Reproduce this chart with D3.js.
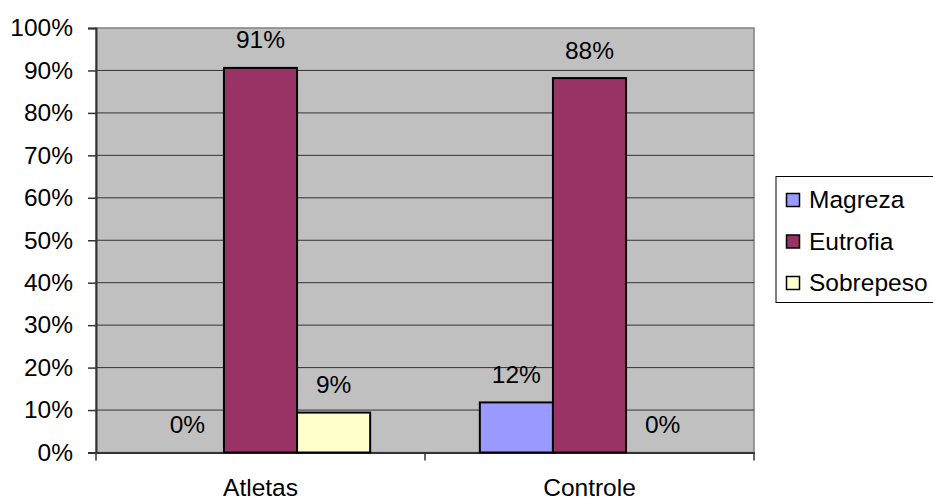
<!DOCTYPE html>
<html><head><meta charset="utf-8">
<script src="https://cdn.jsdelivr.net/npm/d3@7"></script>
<style>body{margin:0;background:#fff}text{font-family:Arial,"Liberation Sans",sans-serif}</style>
</head><body>
<svg id="c" width="933" height="501"></svg>
<script>
const categories = ["Atletas", "Controle"];
const seriesNames = ["Magreza", "Eutrofia", "Sobrepeso"];
const magreza = [0, 11.8];
const eutrofia = [90.6, 88.2];
const sobrepeso = [9.4, 0];
const yTicks = [0,10,20,30,40,50,60,70,80,90,100];
const colors = ["#9999FF", "#993366", "#FFFFCC"];

const FS = 24.5;
const series = [magreza, eutrofia, sobrepeso];
const svg = d3.select("#c");
const L = 96, R = 754, T = 28, B = 452.5;
const x0 = d3.scaleBand().domain(categories).range([L, R]).paddingInner(0).paddingOuter(0);
const y = d3.scaleLinear().domain([0, 100]).range([B, T]);
const bw = x0.bandwidth() / 4.5;

svg.append("rect").attr("x", L).attr("y", T).attr("width", R - L).attr("height", B - T)
  .attr("fill", "#C0C0C0").attr("stroke", "#808080").attr("stroke-width", 1.5);

// gridlines
svg.append("g").selectAll("line").data(yTicks.slice(1, -1)).join("line")
  .attr("x1", L).attr("x2", R).attr("y1", d => y(d)).attr("y2", d => y(d))
  .attr("stroke", "#333").attr("stroke-width", 1);

// y axis
const yAxis = d3.axisLeft(y).tickValues(yTicks).tickFormat(d => d + "%").tickSize(8).tickPadding(15);
const gy = svg.append("g").attr("transform", `translate(${L},0)`).call(yAxis);
gy.select(".domain").attr("stroke", "#333").attr("stroke-width", 2);
gy.selectAll(".tick line").attr("stroke", "#333").attr("stroke-width", 1.5);
gy.selectAll("text").attr("font-size", FS).attr("fill", "#000").attr("font-family", "Arial, 'Liberation Sans', sans-serif");

// x axis
const xAxis = d3.axisBottom(x0).tickSize(0).tickPadding(26);
const gx = svg.append("g").attr("transform", `translate(0,${B})`).call(xAxis);
gx.select(".domain").attr("stroke", "#333").attr("stroke-width", 2);
gx.selectAll("text").attr("font-size", FS).attr("fill", "#000").attr("dy", "0.71em").attr("font-family", "Arial, 'Liberation Sans', sans-serif");
// category separator ticks
const seps = [L, L + x0.bandwidth(), R];
svg.append("g").selectAll("line").data(seps).join("line")
  .attr("x1", d => d).attr("x2", d => d).attr("y1", B).attr("y2", B + 8)
  .attr("stroke", "#333").attr("stroke-width", 1.5);

// bars
categories.forEach((c, ci) => {
  series.forEach((s, si) => {
    const v = s[ci];
    const bx = x0(c) + bw * 0.75 + si * bw;
    if (v > 0) {
      svg.append("rect").attr("x", bx).attr("y", y(v)).attr("width", bw).attr("height", B - y(v))
        .attr("fill", colors[si]).attr("stroke", "#000").attr("stroke-width", 2);
    }
    svg.append("text").attr("x", bx + bw / 2).attr("y", y(v) - 28).attr("dy", "0.35em")
      .attr("text-anchor", "middle").attr("font-size", FS).text(Math.round(v) + "%");
  });
});

// legend
const lg = svg.append("g");
lg.append("rect").attr("x", 776).attr("y", 176.5).attr("width", 160).attr("height", 126)
  .attr("fill", "#fff").attr("stroke", "#000").attr("stroke-width", 1);
seriesNames.forEach((n, i) => {
  const cy = 199.5 + i * 41.5;
  lg.append("rect").attr("x", 786.5).attr("y", cy - 6).attr("width", 13).attr("height", 13)
    .attr("fill", colors[i]).attr("stroke", "#000").attr("stroke-width", 1.5);
  lg.append("text").attr("x", 809).attr("y", cy).attr("dy", "0.35em").attr("font-size", FS).text(n);
});
</script>
</body></html>
